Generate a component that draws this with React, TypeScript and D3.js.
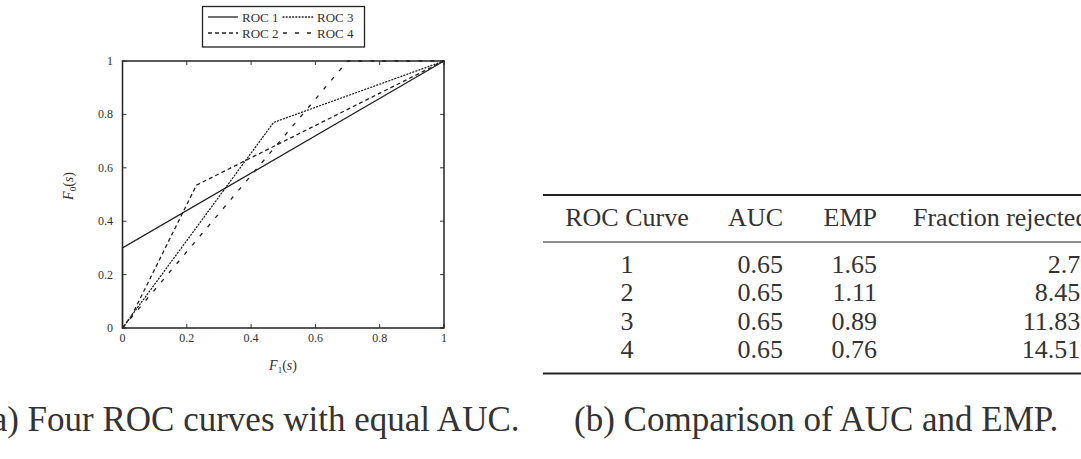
import React from 'react';
import * as d3 from 'd3';

// ROC curves (F1(s) on x, F0(s) on y)
const roc1X = [0, 0, 1];
const roc1Y = [0, 0.3, 1];
const roc2X = [0, 0.03, 0.23, 1];
const roc2Y = [0, 0.05, 0.535, 1];
const roc3X = [0, 0.47, 1];
const roc3Y = [0, 0.77, 1];
const roc4X = [0, 0.7, 1];
const roc4Y = [0, 1, 1];

const curveNames = ['ROC 1', 'ROC 2', 'ROC 3', 'ROC 4'];

// table (b)
const tableHeader = ['ROC Curve', 'AUC', 'EMP', 'Fraction rejected'];
const curveIds = ['1', '2', '3', '4'];
const aucValues = ['0.65', '0.65', '0.65', '0.65'];
const empValues = ['1.65', '1.11', '0.89', '0.76'];
const rejectedValues = ['2.7%', '8.45%', '11.83%', '14.51%'];

const W = 1081;
const H = 459;
const ink = '#222';
const serif = '"Liberation Serif", "Times New Roman", serif';

const dashes: Record<string, string> = {
  'ROC 1': 'none',
  'ROC 2': '4,3',
  'ROC 3': '1,2.2',
  'ROC 4': '4,8',
};

const zip = (xs: number[], ys: number[]) => xs.map((x, i) => [x, ys[i]] as [number, number]);

export default function App() {
  const x = d3.scaleLinear().domain([0, 1]).range([122.5, 444]);
  const y = d3.scaleLinear().domain([0, 1]).range([328, 61]);
  const line = d3.line<[number, number]>().x((d) => x(d[0])).y((d) => y(d[1]));
  const ticks = x.ticks(5);
  const tick = 4;

  const curves = [
    { name: 'ROC 1', pts: zip(roc1X, roc1Y) },
    { name: 'ROC 2', pts: zip(roc2X, roc2Y) },
    { name: 'ROC 3', pts: zip(roc3X, roc3Y) },
    { name: 'ROC 4', pts: zip(roc4X, roc4Y) },
  ];

  // legend: 2 columns (ROC 1 / ROC 3 on top, ROC 2 / ROC 4 below)
  const legendCells = [
    { name: curveNames[0], col: 0, row: 0 },
    { name: curveNames[2], col: 1, row: 0 },
    { name: curveNames[1], col: 0, row: 1 },
    { name: curveNames[3], col: 1, row: 1 },
  ];

  const rowY = d3.scaleLinear().domain([0, 3]).range([273, 358]);

  return (
    <svg
      width={W}
      height={H}
      style={{ position: 'absolute', left: 0, top: 0, background: '#fff' }}
      fontFamily={serif}
    >
      <rect width={W} height={H} fill="#fff" />

      {/* curves */}
      <g fill="none" stroke={ink} strokeWidth={1.3}>
        {curves.map((c) => (
          <path
            key={c.name}
            d={line(c.pts) || ''}
            strokeDasharray={dashes[c.name]}
            strokeLinecap={c.name === 'ROC 3' ? 'round' : 'butt'}
          />
        ))}
      </g>

      {/* ticks, inward on all four sides */}
      <g stroke={ink} strokeWidth={0.9}>
        {ticks.map((t) => (
          <g key={'t' + t}>
            <line x1={x(t)} x2={x(t)} y1={y(0)} y2={y(0) - tick} />
            <line x1={x(t)} x2={x(t)} y1={y(1)} y2={y(1) + tick} />
            <line x1={x(0)} x2={x(0) + tick} y1={y(t)} y2={y(t)} />
            <line x1={x(1)} x2={x(1) - tick} y1={y(t)} y2={y(t)} />
          </g>
        ))}
      </g>
      <rect
        x={x(0)}
        y={y(1)}
        width={x(1) - x(0)}
        height={y(0) - y(1)}
        fill="none"
        stroke={ink}
        strokeWidth={1.5}
      />

      {/* tick labels */}
      <g fill="#333" fontSize={12}>
        {ticks.map((t) => (
          <text key={'xl' + t} x={x(t)} y={342} textAnchor="middle">
            {String(t)}
          </text>
        ))}
        {ticks.map((t) => (
          <text key={'yl' + t} x={113} y={y(t) + 4} textAnchor="end">
            {String(t)}
          </text>
        ))}
      </g>

      {/* axis titles */}
      <text x={283} y={370} textAnchor="middle" fontSize={14} fill="#333">
        <tspan fontStyle="italic">F</tspan>
        <tspan fontSize={9} dy={3}>1</tspan>
        <tspan dy={-3}>(</tspan>
        <tspan fontStyle="italic">s</tspan>
        <tspan>)</tspan>
      </text>
      <text
        transform="translate(73,186) rotate(-90)"
        textAnchor="middle"
        fontSize={14}
        fill="#333"
      >
        <tspan fontStyle="italic">F</tspan>
        <tspan fontSize={9} dy={3}>0</tspan>
        <tspan dy={-3}>(</tspan>
        <tspan fontStyle="italic">s</tspan>
        <tspan>)</tspan>
      </text>

      {/* legend */}
      <rect x={202.5} y={6.5} width={162} height={40.5} fill="#fff" stroke={ink} strokeWidth={1.3} />
      {legendCells.map((c) => {
        const lx = 208 + c.col * 75;
        const ly = 17 + c.row * 16;
        return (
          <g key={c.name}>
            <line
              x1={lx}
              x2={lx + 30}
              y1={ly}
              y2={ly}
              stroke={ink}
              strokeWidth={1.3}
              strokeDasharray={dashes[c.name]}
              strokeLinecap={c.name === 'ROC 3' ? 'round' : 'butt'}
            />
            <text x={lx + 34} y={ly + 4.5} fontSize={13} fill="#333">
              {c.name}
            </text>
          </g>
        );
      })}

      {/* caption (a) */}
      <text x={-20} y={431} fontSize={35} fill="#333">
        (a) Four ROC curves with equal AUC.
      </text>

      {/* table (b) */}
      <g fill="#333" fontSize={26}>
        <line x1={543} x2={W} y1={195} y2={195} stroke={ink} strokeWidth={2} />
        <text x={627} y={226} textAnchor="middle">{tableHeader[0]}</text>
        <text x={783} y={226} textAnchor="end">{tableHeader[1]}</text>
        <text x={877} y={226} textAnchor="end">{tableHeader[2]}</text>
        <text x={913} y={226}>{tableHeader[3]}</text>
        <line x1={543} x2={W} y1={242} y2={242} stroke={ink} strokeWidth={1.2} />
        {curveIds.map((id, i) => (
          <g key={id}>
            <text x={627} y={rowY(i)} textAnchor="middle">{id}</text>
            <text x={783} y={rowY(i)} textAnchor="end">{aucValues[i]}</text>
            <text x={877} y={rowY(i)} textAnchor="end">{empValues[i]}</text>
            <text x={1102} y={rowY(i)} textAnchor="end">{rejectedValues[i]}</text>
          </g>
        ))}
        <line x1={543} x2={W} y1={373.5} y2={373.5} stroke={ink} strokeWidth={2} />
      </g>

      {/* caption (b) */}
      <text x={574} y={431} fontSize={35} fill="#333">
        (b) Comparison of AUC and EMP.
      </text>
    </svg>
  );
}
